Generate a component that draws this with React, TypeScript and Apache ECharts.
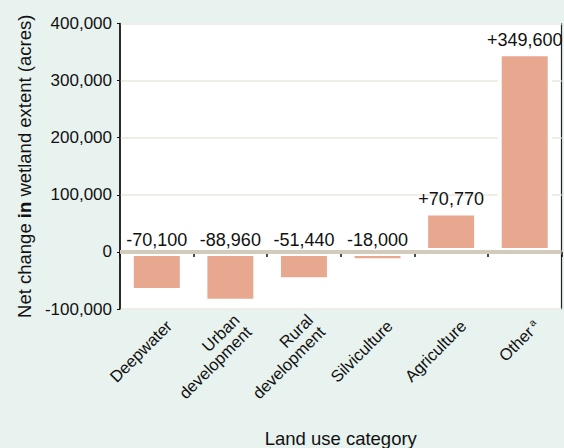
import React, { useEffect, useRef } from "react";
import * as echarts from "echarts";

const categories = ["Deepwater", "Urban\ndevelopment", "Rural\ndevelopment", "Silviculture", "Agriculture", "Other{sup|a}"];
const values = [-70100, -88960, -51440, -18000, 70770, 349600];
const valueLabels = ["-70,100", "-88,960", "-51,440", "-18,000", "+70,770", "+349,600"];
const yTicks = { min: -100000, max: 400000, interval: 100000 };

const FONT = "'Liberation Sans', Arial, sans-serif";

export default function App() {
  const ref = useRef<HTMLDivElement>(null);
  useEffect(() => {
    const chart = echarts.init(ref.current!, null, { renderer: "svg" });
    chart.setOption({
      animation: false,
      backgroundColor: "#e8f2ee",
      textStyle: { fontFamily: FONT },
      grid: {
        left: 120, right: 2.5, top: 23.5, bottom: 139,
        outerBoundsMode: "none",
        containLabel: false,
        show: true, backgroundColor: "#ffffff", borderColor: "#222", borderWidth: 1.2,
      },
      xAxis: {
        type: "category",
        data: categories,
        name: "Land use category",
        nameLocation: "middle",
        nameGap: 120,
        nameTextStyle: { fontSize: 18.5, color: "#111", fontFamily: FONT },
        axisLine: { lineStyle: { color: "#111", width: 1.5 } },
        axisTick: { show: true, length: 5, inside: false, lineStyle: { color: "#111", width: 1.5 } },
        axisLabel: {
          rotate: 45,
          interval: 0,
          margin: 2,
          fontSize: 16.5,
          lineHeight: 17,
          color: "#111",
          fontFamily: FONT,
          padding: [34, 0, 0, 0],
          rich: { sup: { fontSize: 10, verticalAlign: "top", padding: [0, 0, 9, 3] } },
        },
      },
      yAxis: {
        type: "value",
        min: yTicks.min,
        max: yTicks.max,
        interval: yTicks.interval,
        name: "Net change {b|in} wetland extent (acres)",
        nameLocation: "middle",
        nameGap: 81,
        nameTextStyle: {
          fontSize: 18.5, color: "#111", fontFamily: FONT,
          rich: { b: { fontSize: 18.5, fontWeight: "bold", color: "#111", fontFamily: FONT } },
        },
        axisLine: { show: true, lineStyle: { color: "#111", width: 1.5 } },
        axisTick: { show: true, length: 3, lineStyle: { color: "#111" } },
        axisLabel: {
          fontSize: 17, color: "#111", margin: 8, fontFamily: FONT,
          formatter: (v: number) => v.toLocaleString("en-US"),
        },
        splitLine: { show: true, lineStyle: { color: "#eeede8", width: 2 } },
      },
      series: [
        {
          type: "bar",
          data: values,
          barWidth: 54,
          itemStyle: { color: "#e8a890", borderColor: "#ffffff", borderWidth: 4 },
          label: {
            show: true,
            position: "top",
            distance: 3,
            fontSize: 18,
            color: "#111",
            fontFamily: FONT,
            formatter: (p: any) => valueLabels[p.dataIndex],
          },
          markLine: {
            silent: true,
            symbol: "none",
            label: { show: false },
            lineStyle: { color: "#d2cabb", width: 4, type: "solid" },
            data: [{ yAxis: 0 }],
          },
        },
      ],
    });
    return () => chart.dispose();
  }, []);
  return <div ref={ref} style={{ width: 564, height: 448, position: "absolute", left: 0, top: 0 }} />;
}
